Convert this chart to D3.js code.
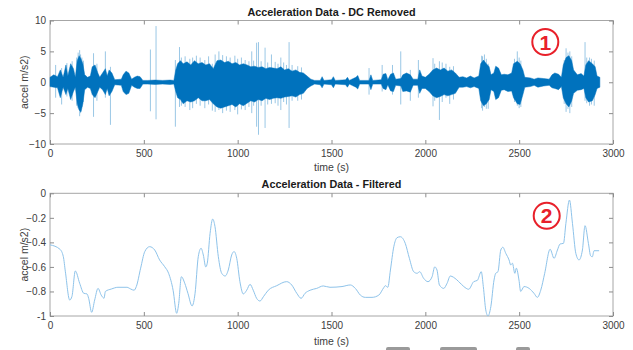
<!DOCTYPE html>
<html>
<head>
<meta charset="utf-8">
<script src="https://cdn.jsdelivr.net/npm/d3@7"></script>
<style>
  body { margin: 0; background: #fff; }
  svg { display: block; font-family: "Liberation Sans", Arial, sans-serif; }
</style>
</head>
<body>
<div id="chart"></div>
<script>
// x ticks shared by both panels
const xTicks = [0, 500, 1000, 1500, 2000, 2500, 3000];
const yTicksTop = [-10, -5, 0, 5, 10];
const yTicksBottom = [-1, -0.8, -0.6, -0.4, -0.2, 0];

// panel 1: envelope of the dense signal
const rawTime = [0, 20, 40, 55, 70, 85, 95, 110, 125, 135, 145, 155, 165, 175, 185, 200, 215, 225, 240, 255,
  265, 280, 295, 305, 315, 330, 345, 380, 390, 405, 420, 435, 450, 465, 480, 495, 520, 560, 600, 640, 660,
  670, 680, 695, 710, 730, 750, 770, 790, 810, 830, 850, 870, 890, 910, 930, 950, 970, 990, 1010, 1030,
  1050, 1070, 1090, 1110, 1130, 1150, 1170, 1190, 1210, 1230, 1250, 1270, 1290, 1310, 1330, 1350, 1370,
  1390, 1410, 1440, 1450, 1460, 1500, 1510, 1520, 1575, 1585, 1595, 1630, 1640, 1650, 1700, 1710, 1720,
  1765, 1775, 1790, 1800, 1815, 1830, 1842, 1870, 1880, 1900, 1920, 1935, 1960, 1970, 1982, 2000, 2020,
  2040, 2060, 2080, 2100, 2120, 2140, 2160, 2180, 2200, 2220, 2240, 2260, 2285, 2295, 2310, 2325, 2340,
  2350, 2365, 2375, 2390, 2405, 2420, 2440, 2460, 2470, 2490, 2505, 2520, 2530, 2560, 2580, 2600, 2630,
  2660, 2675, 2690, 2710, 2725, 2735, 2750, 2765, 2780, 2790, 2810, 2830, 2845, 2855, 2870, 2890, 2905,
  2915, 2930];
const rawHigh = [0.8, 1.2, 0.9, 2.0, 0.8, 2.8, 1.0, 3.0, 2.2, 0.8, 3.5, 4.3, 3.8, 3.0, 1.2, 0.8, 1.0, 2.5, 2.8, 1.5,
  0.8, 1.5, 2.2, 1.0, 2.0, 1.5, 0.4, 0.5, 1.2, 1.8, 1.5, 0.5, 0.8, 1.0, 0.9, 0.3, 0.3, 0.35, 0.3, 0.35, 0.3,
  2.0, 3.0, 3.5, 3.0, 3.3, 2.8, 3.5, 3.0, 3.2, 2.8, 3.0, 2.2, 3.5, 3.6, 3.2, 3.4, 3.0, 3.2, 2.8, 3.0,
  2.8, 2.5, 2.6, 2.4, 2.5, 2.2, 2.4, 2.3, 2.2, 2.5, 2.0, 2.2, 1.8, 2.0, 1.6, 1.5, 1.0,
  0.5, 0.3, 0.3, 0.9, 0.3, 0.4, 0.9, 0.3, 0.4, 0.8, 0.3, 0.8, 1.1, 0.3, 0.3, 1.2, 0.3,
  0.4, 1.3, 1.4, 0.4, 1.3, 1.5, 0.5, 0.6, 1.2, 1.5, 1.2, 0.5, 0.5, 2.0, 1.0, 0.8, 1.3,
  2.0, 2.3, 2.0, 2.3, 1.8, 2.0, 1.5, 0.8, 0.9, 0.7, 1.0, 0.7, 1.0, 3.0, 3.6, 3.0, 2.5,
  1.2, 1.5, 2.6, 2.3, 1.2, 1.3, 1.2, 1.5, 3.0, 3.4, 3.0, 2.0, 0.8, 0.7, 0.5, 0.7, 0.6,
  0.5, 1.2, 1.5, 1.3, 0.8, 2.8, 4.0, 4.3, 3.5, 2.0, 1.2, 1.4, 1.0, 2.8, 3.5, 3.0, 2.5,
  1.0, 0.8];
const rawLow = [-0.7, -0.8, -0.9, -2.5, -0.8, -2.0, -1.0, -2.8, -1.5, -0.8, -3.5, -4.5, -4.8, -3.5, -1.2, -0.8, -1.0, -2.0, -2.5, -1.5,
  -0.8, -1.2, -2.0, -1.0, -2.2, -1.5, -0.4, -0.5, -1.5, -2.0, -1.8, -0.5, -0.8, -1.0, -1.0, -0.3, -0.3, -0.35, -0.3, -0.35, -0.3,
  -1.5, -2.5, -2.8, -3.5, -3.0, -3.2, -3.0, -2.5, -3.0, -3.0, -2.8, -3.5, -4.0, -4.2, -4.0, -3.8, -3.6, -4.0, -3.5, -3.8,
  -3.4, -3.0, -3.2, -2.8, -3.0, -2.6, -2.8, -2.6, -2.5, -2.6, -2.4, -2.3, -2.2, -2.4, -2.0, -1.8, -1.0,
  -0.6, -0.3, -0.4, -0.9, -0.3, -0.4, -0.9, -0.3, -0.4, -0.8, -0.3, -0.8, -1.1, -0.3, -0.3, -1.2, -0.3,
  -0.3, -1.0, -1.2, -0.4, -1.4, -1.5, -0.5, -0.6, -1.5, -1.4, -1.6, -0.5, -0.5, -1.8, -1.0, -1.0, -1.5,
  -2.2, -2.5, -2.3, -2.0, -2.2, -2.0, -1.8, -0.8, -0.8, -0.7, -0.9, -0.7, -1.0, -3.0, -3.8, -3.5, -2.8,
  -1.2, -1.5, -2.8, -2.5, -1.3, -1.2, -1.5, -1.4, -2.5, -3.5, -3.6, -2.0, -0.8, -0.7, -0.5, -0.8, -0.6,
  -0.5, -0.9, -1.0, -1.2, -0.7, -2.5, -3.5, -4.0, -3.0, -1.8, -1.3, -1.2, -1.0, -2.5, -3.2, -3.0, -2.0,
  -1.0, -0.8];

// panel 1: isolated spikes sticking out of the signal
const spikeTime = [30, 62, 90, 118, 142, 150, 158, 163, 170, 178, 232, 250, 295, 322, 535, 565, 668, 690, 700,
  720, 745, 760, 780, 800, 825, 845, 865, 880, 900, 920, 940, 960, 985, 1000, 1020, 1040, 1060, 1075,
  1085, 1101, 1111, 1125, 1146, 1160, 1180, 1200, 1215, 1230, 1245, 1260, 1274, 1290, 1320, 1340,
  1700, 1770, 1825, 1869, 1920, 1963, 2041, 2050, 2075, 2090, 2110, 2130, 2150, 2300, 2305, 2315,
  2325, 2335, 2475, 2490, 2500, 2509, 2740, 2750, 2760, 2770, 2780, 2851, 2860, 2875, 2885, 2900];
const spikeHigh = [2.8, 2.3, 3.1, 3.4, 4.0, 4.8, 5.2, 4.5, 4.0, 3.5, 4.7, 3.0, 5.0, 2.5, 5.3, 9.1, 3.6, 5.7, 4.0,
  4.2, 3.8, 4.0, 4.3, 4.0, 3.6, 4.2, 3.0, 4.5, 5.0, 4.4, 4.2, 4.0, 4.3, 3.8, 4.0, 3.6, 3.4, 5.0,
  3.5, 6.4, 6.5, 3.4, 5.6, 3.2, 4.5, 3.3, 3.0, 4.0, 3.2, 2.8, 6.5, 2.8, 2.6, 2.4,
  2.3, 2.8, 2.8, 5.0, 2.0, 3.6, 3.9, 3.0, 3.4, 3.2, 3.0, 2.5, 2.6, 4.3, 4.2, 4.5,
  3.8, 3.0, 3.8, 5.0, 4.0, 3.5, 3.6, 5.5, 4.8, 5.0, 4.2, 6.5, 4.0, 4.0, 3.8, 3.5];
const spikeLow = [-2.5, -3.6, -2.3, -3.0, -3.8, -4.2, -5.5, -5.0, -4.0, -3.2, -5.6, -3.0, -2.5, -6.9, -4.7, -6.0, -7.2, -4.0, -3.8,
  -4.0, -4.5, -4.2, -3.5, -3.8, -4.2, -3.6, -4.6, -4.8, -4.5, -5.0, -4.6, -4.8, -4.5, -5.2, -4.4, -4.5, -4.0, -5.0,
  -3.8, -7.2, -8.5, -3.8, -7.4, -3.6, -3.5, -3.4, -3.8, -4.5, -3.2, -3.6, -7.4, -3.0, -3.0, -2.8,
  -2.0, -1.5, -2.0, -3.6, -3.0, -2.5, -3.9, -3.0, -6.1, -3.2, -2.5, -3.5, -2.8, -4.2, -4.6, -4.0,
  -4.3, -4.3, -3.2, -3.8, -4.2, -4.0, -3.5, -4.8, -4.3, -5.0, -4.0, -3.0, -3.4, -3.8, -3.6, -3.8];

// panel 2: filtered signal
const filtTime = [0, 53, 71, 82, 105, 117, 135, 158, 180, 197, 206, 222, 238, 256, 273, 288, 295, 327, 362, 410,
  430, 448, 460, 483, 505, 531, 558, 584, 611, 632, 656, 675, 686, 700, 718, 735, 757, 773, 790, 805,
  817, 830, 838, 853, 867, 879, 897, 915, 933, 950, 968, 981, 995, 1012, 1030, 1048, 1066, 1083, 1101,
  1119, 1137, 1163, 1208, 1261, 1288, 1315, 1338, 1359, 1386, 1421, 1456, 1492, 1556, 1600, 1627, 1654,
  1680, 1716, 1752, 1778, 1787, 1800, 1814, 1832, 1849, 1867, 1893, 1915, 1938, 1956, 1970, 1991, 2014,
  2036, 2050, 2062, 2075, 2098, 2116, 2133, 2151, 2178, 2205, 2231, 2258, 2277, 2298, 2309, 2322, 2334,
  2349, 2366, 2375, 2387, 2402, 2413, 2429, 2446, 2455, 2464, 2477, 2485, 2499, 2508, 2526, 2553, 2579,
  2597, 2615, 2636, 2665, 2686, 2704, 2718, 2736, 2749, 2768, 2784, 2802, 2819, 2837, 2851, 2869, 2881,
  2890, 2899, 2926];
const filtValue = [-0.42, -0.456, -0.516, -0.64, -0.87, -0.84, -0.633, -0.733, -0.815, -0.82, -0.856, -0.97, -0.87, -0.775, -0.83, -0.855, -0.8, -0.78, -0.766, -0.766,
  -0.78, -0.79, -0.76, -0.61, -0.475, -0.435, -0.462, -0.543, -0.598, -0.652, -0.79, -0.978, -0.897, -0.68, -0.733, -0.815, -0.918, -0.815, -0.517, -0.448,
  -0.503, -0.6, -0.57, -0.326, -0.21, -0.27, -0.517, -0.652, -0.674, -0.625, -0.503, -0.475, -0.53, -0.72, -0.82, -0.79, -0.742, -0.79, -0.856,
  -0.878, -0.843, -0.79, -0.753, -0.72, -0.747, -0.815, -0.856, -0.815, -0.79, -0.775, -0.755, -0.766, -0.76, -0.747, -0.775, -0.83,
  -0.848, -0.848, -0.83, -0.77, -0.753, -0.766, -0.625, -0.435, -0.362, -0.354, -0.408, -0.53, -0.639, -0.652, -0.639, -0.693, -0.72,
  -0.68, -0.6, -0.625, -0.747, -0.775, -0.733, -0.674, -0.685, -0.72, -0.76, -0.782, -0.72, -0.71, -0.639, -0.76, -0.95, -1.0,
  -0.924, -0.707, -0.652, -0.639, -0.462, -0.44, -0.49, -0.543, -0.584, -0.57, -0.652, -0.61, -0.707, -0.8, -0.76, -0.775, -0.815,
  -0.848, -0.79, -0.652, -0.456, -0.53, -0.462, -0.413, -0.408, -0.245, -0.055, -0.245, -0.49, -0.543, -0.462, -0.264, -0.408, -0.51,
  -0.517, -0.468, -0.468];

const W = 633, H = 350;
const left = 50, right = 613;
const svg = d3.select('#chart').append('svg').attr('width', W).attr('height', H);

const x = d3.scaleLinear().domain([0, 3000]).range([left, right]);
const yTop = d3.scaleLinear().domain([-10, 10]).range([144, 20.5]);
const yBot = d3.scaleLinear().domain([-1, 0]).range([316, 193.3]);

function drawAxes(y, yTicks, fmt, title, titleY, labelY) {
  const [y0, y1] = y.range();
  const g = svg.append('g');
  g.append('rect')
    .attr('x', left).attr('y', y1).attr('width', right - left).attr('height', y0 - y1)
    .attr('fill', 'none').attr('stroke', '#a6a6a6').attr('stroke-width', 1);

  g.append('g').attr('transform', `translate(0,${y0})`)
    .call(d3.axisBottom(x).tickValues(xTicks).tickSizeInner(-4).tickSizeOuter(0).tickPadding(6).tickFormat(d3.format('d')))
    .call(a => a.select('.domain').remove());
  g.append('g').attr('transform', `translate(0,${y1})`)
    .call(d3.axisTop(x).tickValues(xTicks).tickSizeInner(-4).tickSizeOuter(0).tickFormat(''))
    .call(a => a.select('.domain').remove());
  g.append('g').attr('transform', `translate(${left},0)`)
    .call(d3.axisLeft(y).tickValues(yTicks).tickSizeInner(-4).tickSizeOuter(0).tickPadding(4).tickFormat(fmt))
    .call(a => a.select('.domain').remove());
  g.append('g').attr('transform', `translate(${right},0)`)
    .call(d3.axisRight(y).tickValues(yTicks).tickSizeInner(-4).tickSizeOuter(0).tickFormat(''))
    .call(a => a.select('.domain').remove());
  g.selectAll('.tick line').attr('stroke', '#8c8c8c');
  g.selectAll('.tick text').attr('fill', '#404040').style('font-size', '10px')
    .style('font-family', '"Liberation Sans", Arial, sans-serif');

  g.append('text').attr('x', (left + right) / 2).attr('y', titleY)
    .attr('text-anchor', 'middle').attr('font-weight', 'bold').attr('font-size', 10.8).attr('fill', '#1a1a1a')
    .text(title);
  g.append('text').attr('x', (left + right) / 2).attr('y', labelY)
    .attr('text-anchor', 'middle').attr('font-size', 10.5).attr('fill', '#404040')
    .text('time (s)');
  g.append('text').attr('transform', `translate(28,${(y0 + y1) / 2}) rotate(-90)`)
    .attr('text-anchor', 'middle').attr('font-size', 10.5).attr('fill', '#404040')
    .text('accel m/s2)');
}

drawAxes(yTop, yTicksTop, d3.format('d'), 'Acceleration Data - DC Removed', 15.5, 171);
drawAxes(yBot, yTicksBottom, d => d === 0 ? '0' : d === -1 ? '-1' : d3.format('.1f')(d), 'Acceleration Data - Filtered', 187.5, 345);

// panel 1 spikes (thin, lighter)
svg.append('g').selectAll('line').data(spikeTime).join('line')
  .attr('x1', d => x(d)).attr('x2', d => x(d))
  .attr('y1', (d, i) => yTop(spikeHigh[i])).attr('y2', (d, i) => yTop(spikeLow[i]))
  .attr('stroke', '#0072BD').attr('stroke-opacity', 0.4).attr('stroke-width', 1);

// panel 1 dense core
const raw = rawTime.map((t, i) => ({ t, hi: rawHigh[i], lo: rawLow[i] }));
svg.append('path').datum(raw)
  .attr('d', d3.area().x(d => x(d.t)).y0(d => yTop(d.lo)).y1(d => yTop(d.hi)))
  .attr('fill', '#0072BD').attr('stroke', '#0072BD').attr('stroke-width', 0.8).attr('stroke-opacity', 0.6);

// panel 2 filtered line
const filt = filtTime.map((t, i) => ({ t, v: filtValue[i] }));
const filtLine = d3.line().x(d => x(d.t)).y(d => yBot(d.v)).curve(d3.curveMonotoneX);
svg.append('path').datum(filt)
  .attr('d', filtLine)
  .attr('fill', 'none').attr('stroke', '#8ec3ea').attr('stroke-width', 1);

// circled annotations
[[545.3, 42, '1'], [546.7, 215.8, '2']].forEach(([cx, cy, s]) => {
  svg.append('circle').attr('cx', cx).attr('cy', cy).attr('r', 13)
    .attr('fill', '#fff').attr('stroke', '#e8202a').attr('stroke-width', 2);
  svg.append('text').attr('x', cx).attr('y', cy + 7.5).attr('text-anchor', 'middle')
    .attr('font-size', 21).attr('font-weight', 'bold').attr('fill', '#e8202a').text(s);
});

// cut-off grey shapes at the bottom edge
[[386, 24], [440, 37], [516, 14]].forEach(([rx, rw]) => {
  svg.append('rect').attr('x', rx).attr('y', 347).attr('width', rw).attr('height', 6)
    .attr('rx', 2).attr('fill', '#9a9a9a');
});
</script>
</body>
</html>
